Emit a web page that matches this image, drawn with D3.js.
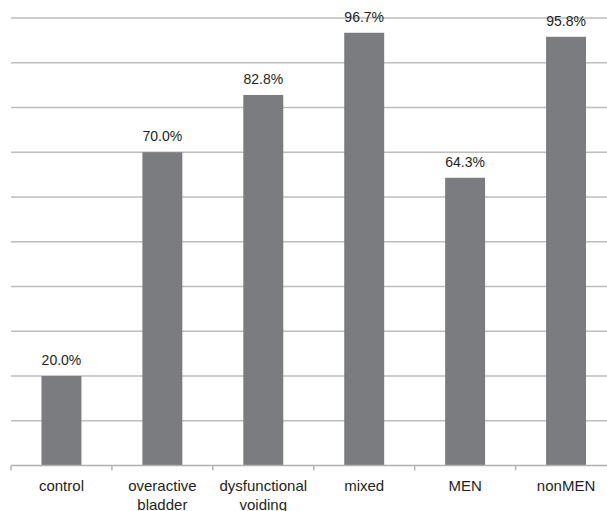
<!DOCTYPE html>
<html>
<head>
<meta charset="utf-8">
<script src="https://cdn.jsdelivr.net/npm/d3@7/dist/d3.min.js"></script>
<style>
  html, body { margin: 0; padding: 0; background: #fff; }
  svg { display: block; }
</style>
</head>
<body>
<svg id="chart" width="607" height="511"></svg>
<script>
// Categories (axis labels, possibly split over two lines)
const categories = ["control", "overactive bladder", "dysfunctional voiding", "mixed", "MEN", "nonMEN"];
const categoryLines = [["control"], ["overactive", "bladder"], ["dysfunctional", "voiding"], ["mixed"], ["MEN"], ["nonMEN"]];
// Percentages per group
const values = [20.0, 70.0, 82.8, 96.7, 64.3, 95.8];
// Gridline values
const gridTicks = [0, 10, 20, 30, 40, 50, 60, 70, 80, 90, 100];

const svg = d3.select("#chart");
const W = 607;
const plotLeft = 11, plotRight = 616.5, plotTop = 18, plotBottom = 465.5;

const x = d3.scaleBand().domain(categories).range([plotLeft, plotRight]).padding(0);
const y = d3.scaleLinear().domain([0, 100]).range([plotBottom, plotTop]);
const barW = x.bandwidth() * 0.396;

// Horizontal gridlines
svg.append("g")
  .selectAll("line")
  .data(gridTicks.filter(d => d > 0))
  .join("line")
  .attr("x1", plotLeft).attr("x2", W)
  .attr("y1", d => y(d)).attr("y2", d => y(d))
  .attr("stroke", "#bdbdbd")
  .attr("stroke-width", 1.4);

// Bars
svg.append("g")
  .selectAll("rect")
  .data(values)
  .join("rect")
  .attr("x", (d, i) => x(categories[i]) + (x.bandwidth() - barW) / 2)
  .attr("y", d => y(d))
  .attr("width", barW)
  .attr("height", d => y(0) - y(d))
  .attr("fill", "#7b7c80");

// Baseline axis with ticks at category boundaries
const axis = svg.append("g");
axis.append("line")
  .attr("x1", plotLeft).attr("x2", W)
  .attr("y1", y(0)).attr("y2", y(0))
  .attr("stroke", "#b0b0b0").attr("stroke-width", 1.4);
axis.selectAll("line.tick")
  .data(categories)
  .join("line")
  .attr("class", "tick")
  .attr("x1", d => x(d)).attr("x2", d => x(d))
  .attr("y1", y(0)).attr("y2", y(0) + 5)
  .attr("stroke", "#b0b0b0").attr("stroke-width", 1.4);

// Value labels above bars
svg.append("g")
  .selectAll("text")
  .data(values)
  .join("text")
  .attr("x", (d, i) => x(categories[i]) + x.bandwidth() / 2)
  .attr("y", d => y(d) - 11)
  .attr("text-anchor", "middle")
  .attr("font-family", "'Liberation Sans', Arial, sans-serif")
  .attr("font-size", 14)
  .attr("fill", "#231f20")
  .text(d => d.toFixed(1) + "%");

// Category labels
const labels = svg.append("g")
  .selectAll("text")
  .data(categories)
  .join("text")
  .attr("x", d => x(d) + x.bandwidth() / 2)
  .attr("y", 490.5)
  .attr("text-anchor", "middle")
  .attr("font-family", "'Liberation Sans', Arial, sans-serif")
  .attr("font-size", 15)
  .attr("fill", "#231f20");
labels.selectAll("tspan")
  .data((d, i) => categoryLines[i])
  .join("tspan")
  .attr("x", function() { return d3.select(this.parentNode).attr("x"); })
  .attr("dy", (d, j) => j === 0 ? 0 : 19.5)
  .text(d => d);
</script>
</body>
</html>
